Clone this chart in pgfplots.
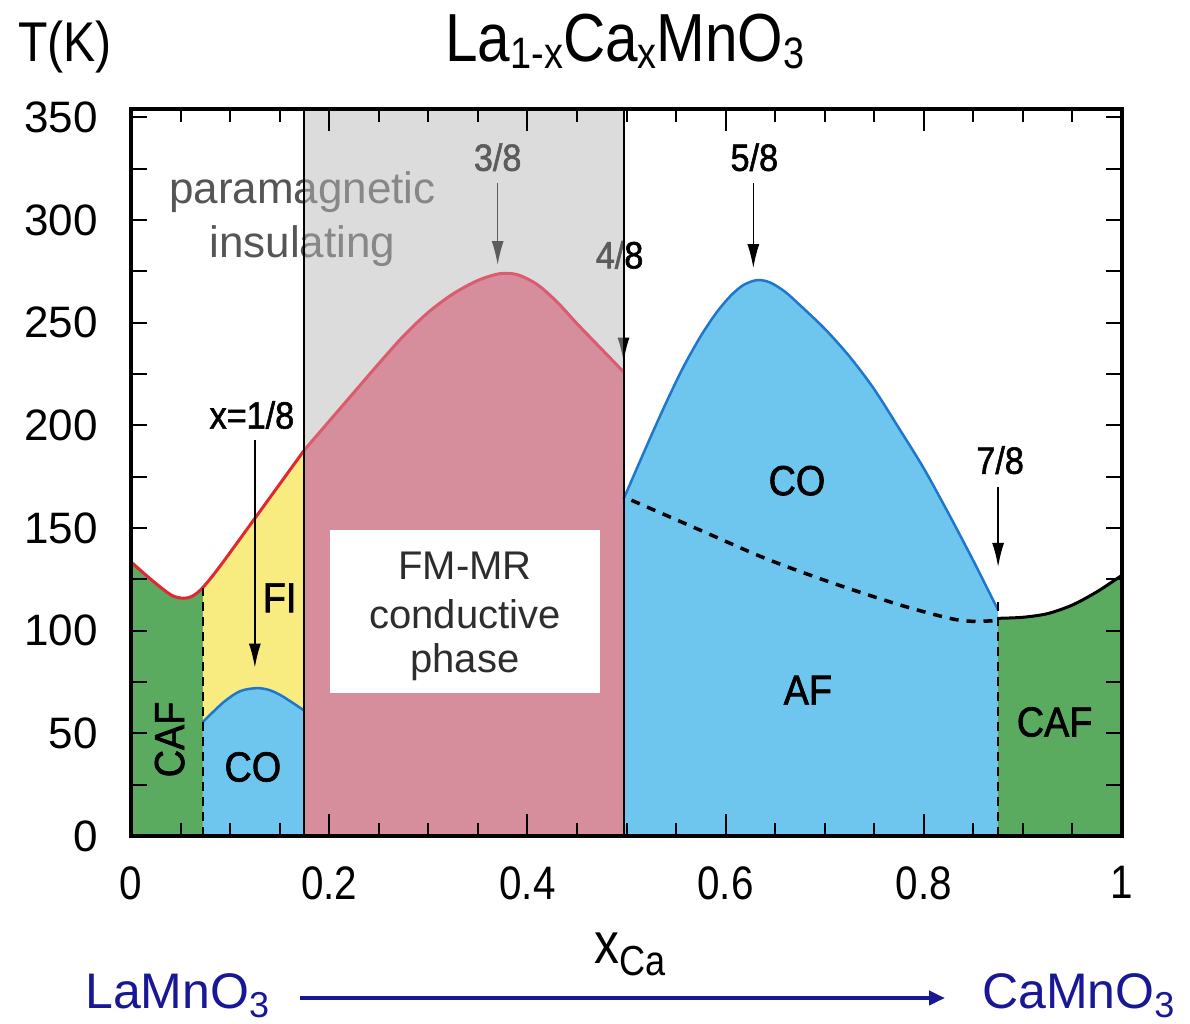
\documentclass[border=0pt]{standalone}
\usepackage{fontspec}
\setmainfont{Liberation Sans}
\newfontfamily\narrowfont[FakeStretch=0.86]{Liberation Sans}
\newfontfamily\labelfont[FakeStretch=0.9, FakeBold=1.5]{Liberation Sans}
\usepackage{pgfplots}
\pgfplotsset{compat=1.18}
\usetikzlibrary{arrows.meta}

\definecolor{cafgreen}{RGB}{90,170,95}
\definecolor{fiyellow}{RGB}{248,236,128}
\definecolor{coblue}{RGB}{110,197,238}
\definecolor{fmpink}{RGB}{214,142,157}
\definecolor{piveil}{RGB}{185,185,185}
\definecolor{tcred}{RGB}{226,38,50}
\definecolor{tcpink}{RGB}{218,92,110}
\definecolor{coline}{RGB}{30,118,205}
\definecolor{navy}{RGB}{24,24,150}
\definecolor{labelgray}{RGB}{85,85,85}
\definecolor{boxtext}{RGB}{45,45,45}

\newcommand\fs[1]{\fontsize{#1}{#1}\selectfont}

\begin{document}
\begin{tikzpicture}
\useasboundingbox (-131pt,-187pt) rectangle (1059pt,836pt);
\begin{axis}[
  at={(0pt,0pt)}, anchor=south west,
  scale only axis, width=991pt, height=727pt,
  xmin=0, xmax=1, ymin=0, ymax=354,
  axis on top,
  axis line style={line width=3.5pt, black},
  xtick={0,0.2,0.4,0.6,0.8,1},
  minor xtick={0.05,0.1,0.15,0.25,0.3,0.35,0.45,0.5,0.55,0.65,0.7,0.75,0.85,0.9,0.95},
  ytick={0,50,...,350},
  minor ytick={25,75,...,325},
  tick pos=both, tick align=inside,
  major tick length=16pt, minor tick length=16pt,
  xtick style={/pgfplots/major tick length=22pt, /pgfplots/minor tick length=13pt},
  tick style={line width=2pt, black},
  /pgf/number format/assume math mode=true,
  xticklabel style={font=\narrowfont\fs{47}, anchor=north, inner sep=0pt, yshift=-30pt},
  yticklabel style={font=\fs{44}, anchor=east, inner sep=0pt, xshift=-33pt},
]
% canted antiferromagnet, La-rich side
\addplot[draw=none, fill=cafgreen, smooth] coordinates {
  (0,133.5) (0.02,125) (0.04,117.5) (0.052,115.8) (0.062,116.8) (0.0725,121)} \closedcycle;
% ferromagnetic insulator
\addplot[draw=none, fill=fiyellow, smooth] coordinates {
  (0.0725,121) (0.09,131.5) (0.13,158) (0.175,188)} \closedcycle;
% charge order near x = 1/8
\addplot[draw=none, fill=coblue, smooth] coordinates {
  (0.0725,55.5) (0.093,65) (0.11,70.5) (0.127,72) (0.14,71) (0.153,68) (0.175,61)} \closedcycle;
% charge order / antiferromagnet, Ca-rich side
\addplot[draw=none, fill=coblue, smooth] coordinates {
  (0.497,164) (0.51,178.5) (0.525,195) (0.54,211) (0.557,228) (0.575,243.5) (0.591,255)
  (0.605,263) (0.618,268.3) (0.632,270.7) (0.645,269.5) (0.66,265) (0.675,258.5)
  (0.7,247) (0.725,233.5) (0.75,217.5) (0.775,198.5) (0.8,179) (0.825,157) (0.85,134) (0.875,110)} \closedcycle;
% canted antiferromagnet, Ca-rich side
\addplot[draw=none, fill=cafgreen, smooth] coordinates {
  (0.875,106) (0.90,106.5) (0.925,108.3) (0.95,112.5) (0.975,119) (1.0,127)} \closedcycle;

% labels lying under the translucent paramagnetic band
\node[labelgray, font=\fs{44}] at (axis cs:0.173,313.5) {paramagnetic};
\node[labelgray, font=\fs{44}] at (axis cs:0.173,287) {insulating};
\node[font=\labelfont\fs{38}] at (axis cs:0.370,330.5) {3/8};
\addplot[black, line width=1.5pt, -{Latex[length=24pt,width=12pt]}] coordinates {(0.370,318) (0.370,278)};
\node[font=\labelfont\fs{38}] at (axis cs:0.493,283) {4/8};
\addplot[black, line width=1.5pt, -{Latex[length=24pt,width=12pt]}] coordinates {(0.497,271) (0.497,231)};

% paramagnetic band over the FM-MR window
\addplot[draw=none, fill=piveil, fill opacity=0.5] coordinates {
  (0.175,0) (0.175,354) (0.497,354) (0.497,0)} -- cycle;

% ferromagnetic metal (colossal magnetoresistance)
\addplot[draw=none, fill=fmpink, smooth] coordinates {
  (0.175,188) (0.2,202) (0.225,216) (0.25,230) (0.275,243.5) (0.3,255) (0.325,264)
  (0.35,270.5) (0.372,273.8) (0.39,273.3) (0.41,268.5) (0.43,260) (0.45,249.5) (0.475,237) (0.497,226)} \closedcycle;

% phase boundaries
\addplot[tcred, line width=3pt, smooth] coordinates {
  (0,133.5) (0.02,125) (0.04,117.5) (0.052,115.8) (0.062,116.8) (0.0725,121)
  (0.09,131.5) (0.13,158) (0.175,188)};
\addplot[tcpink, line width=3pt, smooth] coordinates {
  (0.175,188) (0.2,202) (0.225,216) (0.25,230) (0.275,243.5) (0.3,255) (0.325,264)
  (0.35,270.5) (0.372,273.8) (0.39,273.3) (0.41,268.5) (0.43,260) (0.45,249.5) (0.475,237) (0.497,226)};
\addplot[coline, line width=2.5pt, smooth] coordinates {
  (0.0725,55.5) (0.093,65) (0.11,70.5) (0.127,72) (0.14,71) (0.153,68) (0.175,61)};
\addplot[coline, line width=2.5pt, smooth] coordinates {
  (0.497,164) (0.51,178.5) (0.525,195) (0.54,211) (0.557,228) (0.575,243.5) (0.591,255)
  (0.605,263) (0.618,268.3) (0.632,270.7) (0.645,269.5) (0.66,265) (0.675,258.5)
  (0.7,247) (0.725,233.5) (0.75,217.5) (0.775,198.5) (0.8,179) (0.825,157) (0.85,134) (0.875,110)};
\addplot[black, line width=3pt, smooth] coordinates {
  (0.875,106) (0.90,106.5) (0.925,108.3) (0.95,112.5) (0.975,119) (1.0,127)};
\addplot[black, line width=2pt, dash pattern=on 9pt off 6pt] coordinates {(0.0725,0) (0.0725,121)};
\addplot[black, line width=2pt, dash pattern=on 9pt off 6pt] coordinates {(0.875,0) (0.875,114)};
\addplot[black, line width=3.5pt, dash pattern=on 9pt off 8pt, smooth] coordinates {
  (0.505,163.5) (0.574,149) (0.641,135) (0.709,123) (0.776,112.5) (0.826,106) (0.850,104.5) (0.875,105)};
\addplot[black, line width=2pt] coordinates {(0.175,0) (0.175,354)};
\addplot[black, line width=2pt] coordinates {(0.497,0) (0.497,354)};

% FM-MR caption box
\addplot[draw=none, fill=white] coordinates {
  (0.2008,69.6) (0.2008,149) (0.4733,149) (0.4733,69.6)} -- cycle;
\node[boxtext, font=\fs{40}] at (axis cs:0.337,131.5) {FM-MR};
\node[boxtext, font=\fs{40}] at (axis cs:0.337,108) {conductive};
\node[boxtext, font=\fs{40}] at (axis cs:0.337,84.7) {phase};

% phase names and commensurate fillings
\node[font=\labelfont\fs{38}] at (axis cs:0.122,205) {x=1/8};
\addplot[black, line width=1.5pt, -{Latex[length=24pt,width=12pt]}] coordinates {(0.125,193) (0.125,82)};
\node[font=\labelfont\fs{38}] at (axis cs:0.629,330.5) {5/8};
\addplot[black, line width=1.5pt, -{Latex[length=24pt,width=12pt]}] coordinates {(0.628,318) (0.628,276.5)};
\node[font=\labelfont\fs{38}] at (axis cs:0.877,183) {7/8};
\addplot[black, line width=1.5pt, -{Latex[length=24pt,width=12pt]}] coordinates {(0.875,170) (0.875,131)};
\node[font=\labelfont\fs{42}] at (axis cs:0.150,116) {FI};
\node[font=\labelfont\fs{42}] at (axis cs:0.123,33.6) {CO};
\node[font=\labelfont\fs{42}, rotate=90] at (axis cs:0.039,47) {CAF};
\node[font=\labelfont\fs{42}] at (axis cs:0.672,173) {CO};
\node[font=\labelfont\fs{42}] at (axis cs:0.683,71) {AF};
\node[font=\labelfont\fs{42}] at (axis cs:0.932,55.5) {CAF};
\end{axis}

% axis titles and composition range
\node[anchor=base, font=\narrowfont\fs{56}] at (-66pt,774pt) {T(K)};
\node[anchor=base, font=\narrowfont\fs{68}] at (494pt,774pt)
  {La\raisebox{-7pt}{\fs{44}1-x}Ca\raisebox{-7pt}{\fs{44}x}MnO\raisebox{-7pt}{\fs{44}3}};
\node[anchor=base, font=\narrowfont\fs{58}] at (499pt,-127pt) {x\raisebox{-12pt}{\fs{42}Ca}};
\node[anchor=base west, inner sep=0pt, navy, font=\fs{50}] at (-46pt,-172pt)
  {LaMnO\raisebox{-9pt}{\fs{36}3}};
\node[anchor=base west, inner sep=0pt, navy, font=\fs{50}] at (851pt,-172pt)
  {CaMnO\raisebox{-9pt}{\fs{36}3}};
\draw[navy, line width=4pt, -{Triangle[length=16pt,width=14pt]}] (169pt,-162pt) -- (814pt,-162pt);
\end{tikzpicture}
\end{document}
